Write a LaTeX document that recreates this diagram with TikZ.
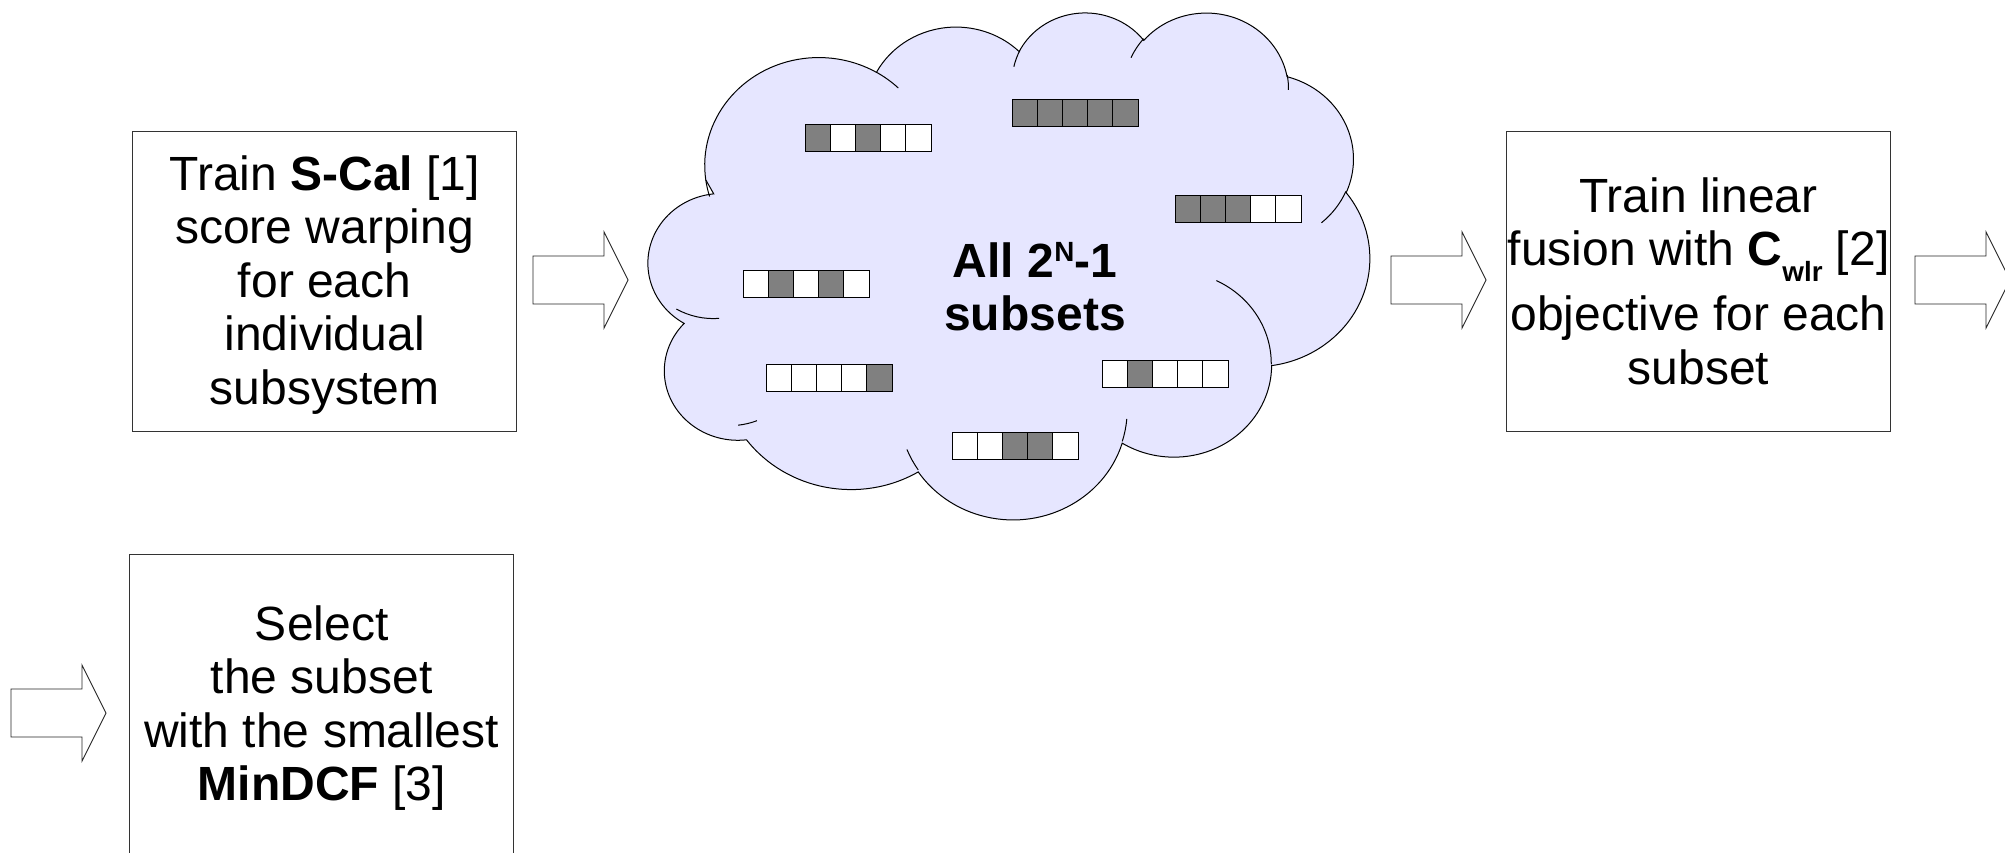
\documentclass[tikz,border=0pt]{standalone}
\usepackage{fontspec}
\setmainfont{Liberation Sans}
\definecolor{cloudfill}{HTML}{E6E6FF}
\definecolor{cellgray}{HTML}{808080}
\definecolor{boxline}{HTML}{333333}

% Elliptical arc with a "visual" start angle and sweep (angles of the ray from
% the centre), converted to TikZ's parametric angles.
\newcommand\vizarc[4]{arc[x radius=#1, y radius=#2,
  start angle={atan2((#1)*sin(#3),(#2)*cos(#3))},
  end angle={atan2((#1)*sin(#3),(#2)*cos(#3))+(#4)+Mod(atan2((#1)*sin((#3)+(#4)),(#2)*cos((#3)+(#4)))-atan2((#1)*sin(#3),(#2)*cos(#3))-(#4)+180,360)-180}]}

% A row of five membership cells: left x, top y, pattern (1 = member)
\newcommand\subsetbar[3]{%
  \foreach \v [count=\i from 0] in {#3}{%
    \ifnum\v=1 \def\cellst{cellon}\else\def\cellst{celloff}\fi
    \draw[\cellst] ({#1+25.2*\i},#2) rectangle ++(25.2,27.5);
  }}

% small raised / lowered script text
\newcommand\supr[1]{\raisebox{0.33em}{\fontsize{27.8}{27.8}\selectfont #1}}
\newcommand\subr[1]{\raisebox{-0.33em}{\fontsize{27.8}{27.8}\selectfont #1}}

\begin{document}
\begin{tikzpicture}[x=1pt,y=-1pt,
  stepbox/.style={draw=boxline, line width=1pt, fill=white,
    minimum width=384pt, minimum height=300pt, inner sep=0pt},
  steptext/.style={align=center, inner sep=0pt,
    font=\fontsize{48}{53.5}\selectfont},
  blockarrow/.style={draw=black!85, line width=0.9pt, fill=white, line join=miter},
  cloudline/.style={draw=black, line width=1pt},
  cellon/.style={fill=cellgray, draw=black, line width=0.9pt},
  celloff/.style={fill=white, draw=black, line width=0.9pt},
]
\useasboundingbox[fill=white] (0,0) rectangle (2005,852);

% process boxes
\node[stepbox] (scal) at (324.7,281) {};
\node[stepbox] (fuse) at (1698.5,281) {};
\node[stepbox] (select) at (321.7,704.5) {};

\node[steptext] (scaltext) at ([yshift=-3.7pt]scal.center)
  {Train \textbf{S-Cal} [1]\\score warping\\for each\\individual\\subsystem};
\node[steptext] (fusetext) at (fuse.center)
  {Train linear\\fusion with \textbf{C}\subr{\bfseries wlr} [2]\\[11.5pt]objective for each\\subset};
\node[steptext] (selecttext) at ([yshift=-3.7pt]select.center)
  {Select\\the subset\\with the smallest\\\textbf{MinDCF} [3]};

% block arrows between the steps
\coordinate (a1) at (533,280);
\coordinate (a2) at (1391,280);
\coordinate (a3) at (1915,280);
\coordinate (a4) at (11,713);
\foreach \a in {a1,a2,a3,a4}{
  \draw[blockarrow] (\a) ++(0,-24) -- ++(71,0) -- ++(0,-24) -- ++(24,48)
    -- ++(-24,48) -- ++(0,-24) -- ++(-71,0) -- cycle;
}

% cloud of subsets
\begin{scope}[shift={(639.9pt,-11.3pt)}, x=16.89pt, y=-11.731pt]
  \draw[cloudline, fill=cloudfill] (3.900,14.370)
    \vizarc{6.753}{9.190}{-190.48748}{123.78053}
    \vizarc{5.333}{7.267}{-144.10238}{89.94523}
    \vizarc{4.365}{5.945}{-145.80792}{99.72302}
    \vizarc{4.857}{6.595}{-130.98607}{117.24173}
    \vizarc{5.333}{7.273}{-78.70888}{109.02692}
    \vizarc{6.775}{9.220}{-46.26725}{130.26900}
    \vizarc{5.785}{7.867}{0.62502}{114.03333}
    \vizarc{6.752}{9.215}{22.45160}{115.17255}
    \vizarc{7.720}{10.543}{66.24263}{68.25935}
    \vizarc{4.360}{5.918}{-274.94208}{146.73557}
    \vizarc{4.345}{5.945}{-246.82850}{152.51885}
    -- cycle;
  \draw[cloudline]
    (4.693,26.177) \vizarc{4.345}{5.945}{86.74200}{26.42950}
    (6.928,34.899) \vizarc{4.360}{5.918}{73.61047}{11.44747}
    (16.478,39.090) \vizarc{6.752}{9.215}{137.62415}{14.08110}
    (28.827,34.751) \vizarc{6.752}{9.215}{6.45327}{15.99835}
    (34.129,22.954) \vizarc{5.785}{7.867}{-70.29235}{70.91737}
    (41.798,15.354) \vizarc{5.333}{7.273}{30.31803}{27.75150}
    (38.324,5.426) \vizarc{4.857}{6.595}{-13.74433}{14.85890}
    (29.078,3.952) \vizarc{4.857}{6.595}{-149.18145}{18.19537}
    (22.141,4.720) \vizarc{4.365}{5.945}{-163.49427}{17.68635}
    (14.000,5.192) \vizarc{6.753}{9.190}{-66.70695}{12.31935}
    (4.127,15.789) \vizarc{6.753}{9.190}{157.65435}{11.85817};
\end{scope}

% subsets drawn as membership rows
\subsetbar{805}{124}{1,0,1,0,0}
\subsetbar{1012}{99}{1,1,1,1,1}
\subsetbar{1175}{195}{1,1,1,0,0}
\subsetbar{743}{270}{0,1,0,1,0}
\subsetbar{766}{364}{0,0,0,0,1}
\subsetbar{1102}{360}{0,1,0,0,0}
\subsetbar{952}{432}{0,0,1,1,0}

\node[steptext, font=\fontsize{48}{53.5}\selectfont\bfseries]
  (allsub) at (1035,286.5) {All 2\supr{N}-1\\subsets};
\end{tikzpicture}
\end{document}
